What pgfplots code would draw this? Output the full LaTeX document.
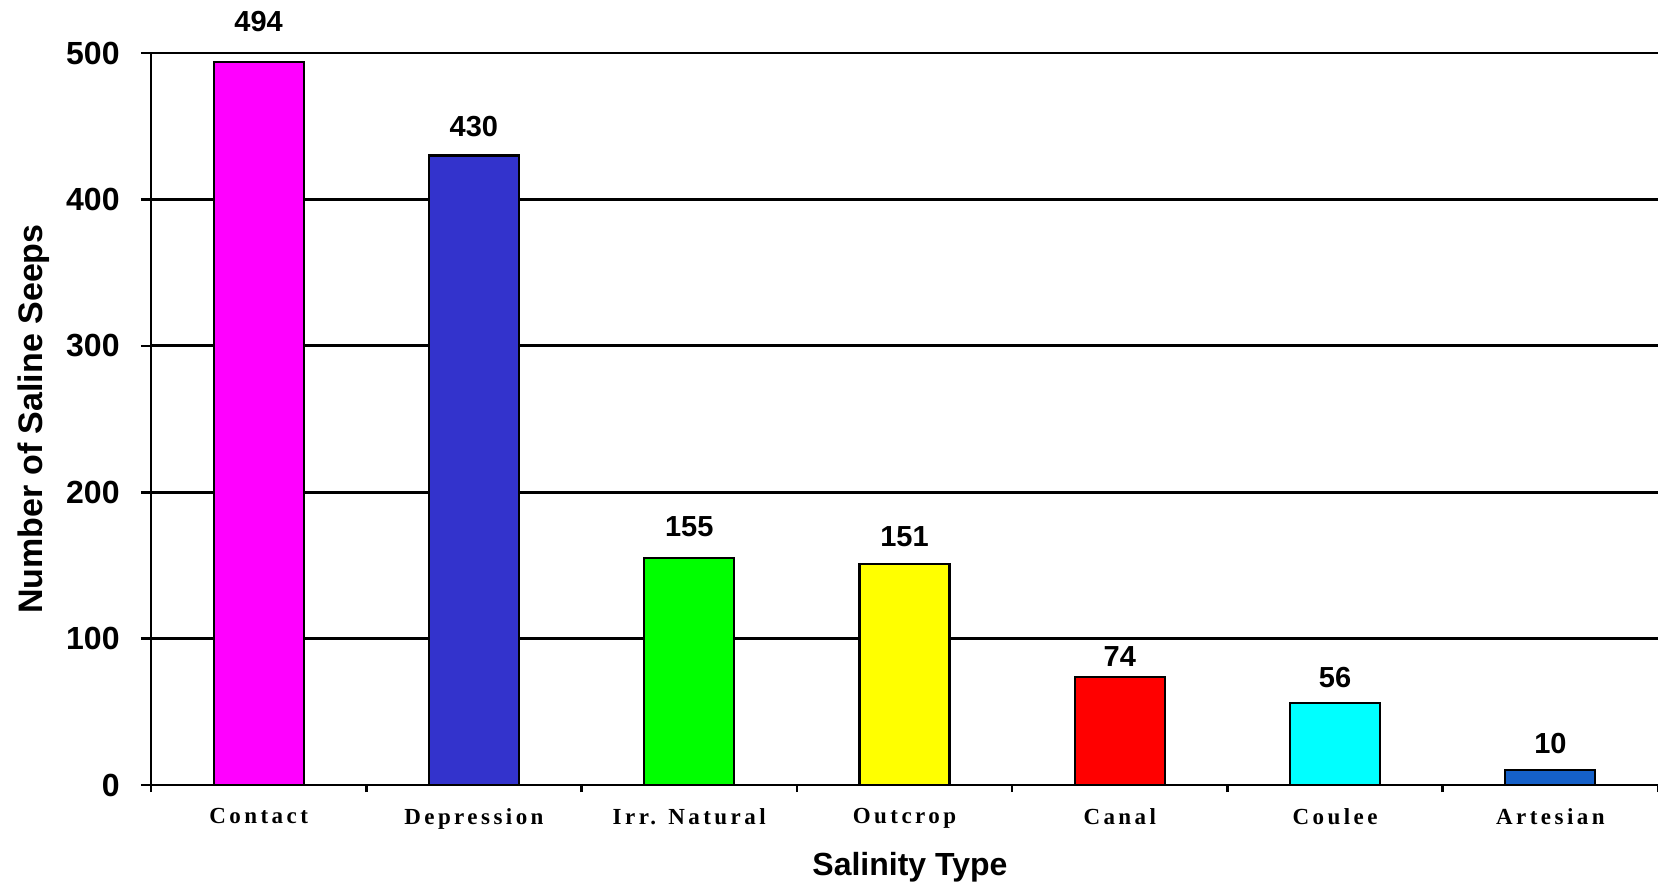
\documentclass[border=0pt]{standalone}
\usepackage{fontspec}
\setmainfont{Liberation Sans}
\newfontfamily\tickserif{Liberation Serif}[LetterSpace=15]
\usepackage{pgfplots}
\pgfplotsset{compat=1.18}
\definecolor{cContact}{HTML}{FF00FF}
\definecolor{cDepr}{HTML}{3333CC}
\definecolor{cIrr}{HTML}{00FF00}
\definecolor{cOut}{HTML}{FFFF00}
\definecolor{cCanal}{HTML}{FF0000}
\definecolor{cCoulee}{HTML}{00FFFF}
\definecolor{cArt}{HTML}{1560C8}
\begin{document}
\begin{tikzpicture}
\begin{axis}[
  scale only axis,
  width=753.5pt, height=366pt,
  xmin=-0.5, xmax=6.5,
  ymin=0, ymax=500,
  axis x line*=bottom, axis y line*=left,
  axis line style={line width=1.3pt},
  ytick={0,100,200,300,400,500},
  ymajorgrids,
  grid style={black, line width=1.4pt},
  tick align=outside,
  major tick length=5pt,
  ytick style={black, line width=1.3pt},
  xtick={0,1,2,3,4,5,6},
  xticklabels={Contact,Depression,Irr. Natural,Outcrop,Canal,Coulee,Artesian},
  xtick style={draw=none},
  extra x ticks={-0.5,0.5,1.5,2.5,3.5,4.5,5.5,6.5},
  extra x tick labels={},
  extra x tick style={major tick length=3.5pt, xtick style={draw=black, line width=1.3pt}, grid=none},
  /pgf/number format/assume math mode=true,
  yticklabel style={font=\bfseries\fontsize{16}{16}\selectfont, anchor=east, inner sep=0pt, xshift=-10.5pt},
  xticklabel style={font=\tickserif\bfseries\fontsize{11.5}{11.5}\selectfont, anchor=north, inner sep=0pt, yshift=-6.5pt},
  xlabel={Salinity Type},
  ylabel={Number of Saline Seeps},
  xlabel style={font=\bfseries\fontsize{16}{16}\selectfont, at={(axis description cs:0.5036,0)}, anchor=base, yshift=-45pt},
  ylabel style={font=\bfseries\fontsize{17}{17}\selectfont, at={(axis description cs:-0.0723,0.5)}, anchor=base},
  ybar, bar width=45pt,
  every axis plot/.append style={bar shift=0pt, draw=black, line width=1.1pt},
  nodes near coords,
  every node near coord/.append style={font=\bfseries\fontsize{14.5}{14.5}\selectfont, anchor=south, inner sep=0pt, black},
  clip=false,
]
\addplot[fill=cContact, every node near coord/.append style={yshift=14.5pt}] coordinates {(0,494)};
\addplot[fill=cDepr, every node near coord/.append style={yshift=9pt}] coordinates {(1,430)};
\addplot[fill=cIrr, every node near coord/.append style={yshift=10pt}] coordinates {(2,155)};
\addplot[fill=cOut, every node near coord/.append style={yshift=8pt}] coordinates {(3,151)};
\addplot[fill=cCanal, every node near coord/.append style={yshift=4.7pt}] coordinates {(4,74)};
\addplot[fill=cCoulee, every node near coord/.append style={yshift=7.2pt}] coordinates {(5,56)};
\addplot[fill=cArt, every node near coord/.append style={yshift=7.5pt}] coordinates {(6,10)};
\coordinate (bl) at (rel axis cs:0,0);
\coordinate (tr) at (rel axis cs:1,1);
\end{axis}
\pgfresetboundingbox
\path ([xshift=-75.5pt,yshift=-51.5pt]bl) rectangle ([yshift=26.5pt]tr);
\end{tikzpicture}
\end{document}
